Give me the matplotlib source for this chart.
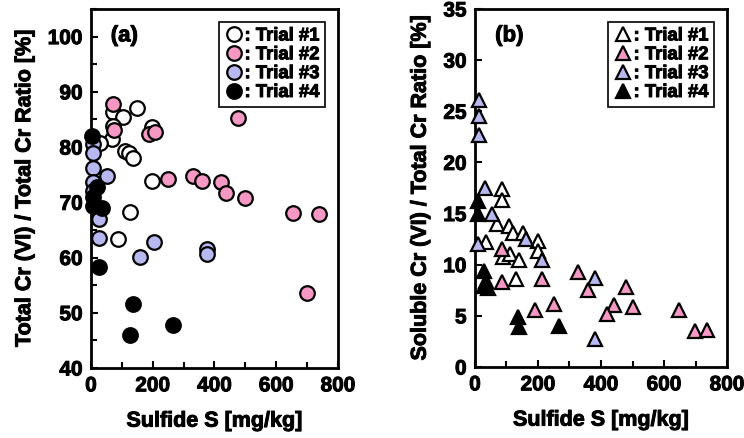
import matplotlib.pyplot as plt
import matplotlib.patheffects as pe
from matplotlib.ticker import MultipleLocator

plt.rcParams['font.family'] = ['Liberation Sans', 'DejaVu Sans']
plt.rcParams['font.weight'] = 'bold'

# (a) Total Cr(VI) / Total Cr ratio vs sulfide S
a1_x = [72, 148, 105, 72, 197, 67, 29, 110, 124, 137, 197, 126, 88]
a1_y = [86.4, 87.1, 85.5, 83.9, 83.7, 81.5, 80.8, 79.3, 79.0, 78.1, 73.9, 68.3, 63.3]
a2_x = [72, 477, 75, 189, 207, 250, 330, 359, 420, 437, 499, 654, 740, 701]
a2_y = [87.8, 85.2, 83.1, 82.4, 82.7, 74.2, 74.8, 73.9, 73.6, 71.6, 70.8, 68.0, 67.8, 53.5]
a3_x = [5, 5, 5, 51, 5, 5, 27, 27, 205, 159, 377, 377]
a3_y = [80.5, 79.0, 76.3, 74.8, 73.7, 72.1, 67.0, 63.6, 62.9, 60.1, 61.6, 60.7]
a4_x = [2, 18, 5, 7, 35, 27, 135, 267, 126]
a4_y = [82.0, 72.7, 71.0, 69.3, 69.0, 58.3, 51.5, 47.8, 46.0]

# (b) Soluble Cr(VI) / Total Cr ratio vs sulfide S
b1_x = [85, 85, 69, 109, 122, 151, 199, 35, 90, 111, 141, 199, 130]
b1_y = [17.4, 16.3, 14.0, 13.8, 13.1, 13.1, 12.3, 12.2, 10.8, 11.0, 10.5, 11.3, 8.6]
b2_x = [85, 85, 212, 328, 360, 478, 190, 252, 441, 420, 500, 646, 699, 736]
b2_y = [11.5, 8.3, 8.6, 9.3, 7.5, 7.8, 5.6, 6.2, 6.1, 5.2, 5.9, 5.6, 3.5, 3.6]
b3_x = [13, 13, 13, 32, 55, 162, 11, 212, 381, 381]
b3_y = [26.1, 24.5, 22.7, 17.5, 15.0, 12.5, 12.0, 10.5, 8.7, 2.7]
b4_x = [10, 10, 30, 35, 30, 40, 138, 141, 268]
b4_y = [16.2, 15.0, 9.4, 8.4, 7.9, 7.7, 4.9, 3.9, 4.0]

labels = [': Trial #1', ': Trial #2', ': Trial #3', ': Trial #4']
colors = ['white', '#f598c4', '#b8b8f0', 'black']

# thin outline to give the text a heavier look
heavy = [pe.withStroke(linewidth=0.7, foreground='black')]

fig = plt.figure(figsize=(7.44, 4.38), dpi=100)
ax_a = fig.add_axes([0.1223, 0.1598, 0.332, 0.8197])
ax_b = fig.add_axes([0.6384, 0.1621, 0.3388, 0.8174])


def draw_panel(ax, xs, ys, marker, ylim, ymajor, yminor, ylabel, tag):
    handles = [None] * 4
    # trial #3 goes on top of trial #4
    for i in [0, 1, 3, 2]:
        h, = ax.plot(xs[i], ys[i], linestyle='none', marker=marker, ms=10.5,
                     mfc=colors[i], mec='black', mew=1.6, label=labels[i],
                     clip_on=False, zorder=3 + i)
        handles[i] = h
    ax.set_xlim(0, 800)
    ax.set_ylim(*ylim)
    ax.xaxis.set_major_locator(MultipleLocator(200))
    ax.xaxis.set_minor_locator(MultipleLocator(100))
    ax.yaxis.set_major_locator(MultipleLocator(ymajor))
    if yminor:
        ax.yaxis.set_minor_locator(MultipleLocator(yminor))
    ax.tick_params(which='both', direction='in', top=False, right=False,
                   width=1.5, labelsize=15, pad=6)
    ax.tick_params(which='major', length=5)
    ax.tick_params(which='minor', length=4)
    for s in ax.spines.values():
        s.set_linewidth(2.0)
    ax.set_xlabel('Sulfide S [mg/kg]', fontsize=15.5, fontweight='bold',
                  labelpad=11, path_effects=heavy)
    ax.set_ylabel(ylabel, fontsize=15.5, fontweight='bold', labelpad=9,
                  path_effects=heavy)
    ax.text(0.08, 0.925, tag, transform=ax.transAxes, fontsize=16,
            fontweight='bold', va='center', ha='left', path_effects=heavy)
    leg = ax.legend(handles=handles, loc='upper right', fontsize=13.3,
                    handletextpad=0.0, handlelength=1.1, borderpad=0.3,
                    labelspacing=0.1, borderaxespad=0.7, fancybox=False,
                    framealpha=1, edgecolor='black', markerscale=1.0)
    leg.get_frame().set_linewidth(1.2)
    for t in leg.get_texts():
        t.set_fontweight('bold')
        t.set_path_effects(heavy)


draw_panel(ax_a, [a1_x, a2_x, a3_x, a4_x], [a1_y, a2_y, a3_y, a4_y], 'o',
           (40, 105), 10, 5, 'Total Cr (VI) / Total Cr Ratio [%]', '(a)')
draw_panel(ax_b, [b1_x, b2_x, b3_x, b4_x], [b1_y, b2_y, b3_y, b4_y], '^',
           (0, 35), 5, None, 'Soluble Cr (VI) / Total Cr Ratio [%]', '(b)')

# make the tick numbers heavy once they exist
fig.canvas.draw()
for ax in (ax_a, ax_b):
    for lbl in ax.get_xticklabels() + ax.get_yticklabels():
        lbl.set_fontweight('bold')
        lbl.set_path_effects(heavy)

fig.savefig('out.png', dpi=100)
